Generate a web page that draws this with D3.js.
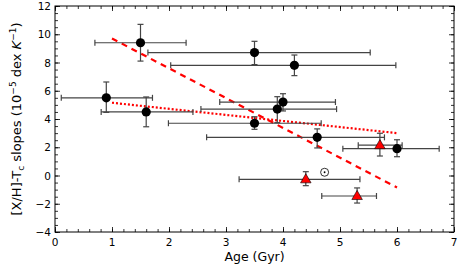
<!DOCTYPE html>
<html><head><meta charset="utf-8">
<script src="https://cdn.jsdelivr.net/npm/d3@7"></script>
<style>body{margin:0;background:#fff}svg{display:block}text{font-family:"DejaVu Sans",sans-serif}</style>
</head><body><svg id="c" width="463" height="265"></svg>
<script>
// Black circles: age, slope, age low, age high, slope low, slope high
const circAge   = [1.5, 3.5, 4.2, 0.9, 1.6, 4.0, 3.9, 3.5, 4.6, 6.0];
const circSlope = [9.4, 8.7, 7.8, 5.5, 4.5, 5.2, 4.7, 3.7, 2.7, 1.9];
const circAgeLo = [0.7, 1.63, 2.03, 0.11, 0.81, 2.89, 2.56, 1.99, 2.66, 5.05];
const circAgeHi = [2.3, 5.53, 5.98, 1.71, 2.42, 4.92, 4.94, 4.67, 5.78, 6.74];
const circSlLo  = [8.1, 7.85, 7.07, 4.47, 3.45, 4.57, 3.74, 3.27, 1.95, 1.33];
const circSlHi  = [10.7, 9.5, 8.53, 6.62, 5.56, 5.79, 5.58, 4.16, 3.3, 2.53];
// Red triangles
const triAge   = [5.7, 4.4, 5.3];
const triSlope = [2.15, -0.27, -1.45];
const triAgeLo = [5.32, 3.23, 4.68];
const triAgeHi = [6.09, 5.35, 5.64];
const triSlLo  = [1.38, -0.72, -1.95];
const triSlHi  = [2.99, 0.27, -0.88];
// Sun
const sunAge = [4.73], sunSlope = [0.23];
// Fit lines
const dashX = [1.0, 6.0], dashY = [9.7, -0.85];
const dotX  = [1.0, 6.0], dotY  = [5.15, 3.0];
const xTicks = [0,1,2,3,4,5,6,7];
const yTicks = [-4,-2,0,2,4,6,8,10,12];

const L=55, R=454, T=6, B=232;
const svg = d3.select("#c");
const x = d3.scaleLinear().domain([0,7]).range([L,R]);
const y = d3.scaleLinear().domain([-4,12]).range([B,T]);

function axis(gen, tr, major, minor){
  const g = svg.append("g").attr("transform", tr);
  g.call(gen.tickValues(minor).tickSize(3).tickFormat(""));
  const g2 = svg.append("g").attr("transform", tr);
  g2.call(gen.tickValues(major).tickSize(5).tickFormat(""));
  [g,g2].forEach(gg=>{gg.select(".domain").remove(); gg.selectAll("line").attr("stroke","#000").attr("stroke-width",0.8);});
}
const xMinor = d3.range(0,7.001,0.2).map(v=>+v.toFixed(1));
const yMinor = d3.range(-4,12.001,0.5);
axis(d3.axisTop(x), `translate(0,${B})`, xTicks, xMinor);
axis(d3.axisBottom(x), `translate(0,${T})`, xTicks, xMinor);
axis(d3.axisRight(y), `translate(${L},0)`, yTicks, yMinor);
axis(d3.axisLeft(y), `translate(${R},0)`, yTicks, yMinor);
svg.append("g").selectAll("text").data(xTicks).join("text")
  .attr("x", d=>x(d)).attr("y", B+14).attr("text-anchor","middle").attr("font-size",10.5).text(d=>d);
svg.append("g").selectAll("text").data(yTicks).join("text")
  .attr("x", L-4).attr("y", d=>y(d)+4).attr("text-anchor","end").attr("font-size",10.5)
  .text(d=>d<0?"\u2212"+(-d):d);
svg.append("rect").attr("x",L).attr("y",T).attr("width",R-L).attr("height",B-T)
  .attr("fill","none").attr("stroke","#000").attr("stroke-width",1);

const line = d3.line().x(d=>x(d[0])).y(d=>y(d[1]));
svg.append("path").attr("d", line(dashX.map((v,i)=>[v,dashY[i]])))
  .attr("stroke","#ff0000").attr("stroke-width",2.2).attr("stroke-dasharray","6,5").attr("fill","none");
svg.append("path").attr("d", line(dotX.map((v,i)=>[v,dotY[i]])))
  .attr("stroke","#ff0000").attr("stroke-width",2.2).attr("stroke-dasharray","2,2").attr("fill","none");

function errbars(ax, sl, axLo, axHi, slLo, slHi){
  const g = svg.append("g").attr("stroke","#444").attr("stroke-width",1.2);
  ax.forEach((a,i)=>{
    g.append("line").attr("x1",x(axLo[i])).attr("x2",x(axHi[i])).attr("y1",y(sl[i])).attr("y2",y(sl[i]));
    g.append("line").attr("x1",x(a)).attr("x2",x(a)).attr("y1",y(slLo[i])).attr("y2",y(slHi[i]));
    [axLo[i],axHi[i]].forEach(v=>g.append("line").attr("x1",x(v)).attr("x2",x(v)).attr("y1",y(sl[i])-3).attr("y2",y(sl[i])+3));
    [slLo[i],slHi[i]].forEach(v=>g.append("line").attr("x1",x(a)-3).attr("x2",x(a)+3).attr("y1",y(v)).attr("y2",y(v)));
  });
}
errbars(circAge,circSlope,circAgeLo,circAgeHi,circSlLo,circSlHi);
errbars(triAge,triSlope,triAgeLo,triAgeHi,triSlLo,triSlHi);

svg.append("g").selectAll("circle").data(circAge).join("circle")
  .attr("cx",d=>x(d)).attr("cy",(d,i)=>y(circSlope[i])).attr("r",4.6).attr("fill","#000");
const tri = d3.symbol().type(d3.symbolTriangle).size(48);
svg.append("g").selectAll("path").data(triAge).join("path")
  .attr("d",tri).attr("transform",(d,i)=>`translate(${x(d)},${y(triSlope[i])+0.5})`)
  .attr("fill","#ff0000").attr("stroke","#000").attr("stroke-width",0.6);
sunAge.forEach((a,i)=>{
  svg.append("circle").attr("cx",x(a)).attr("cy",y(sunSlope[i])).attr("r",4).attr("fill","none").attr("stroke","#000").attr("stroke-width",0.8);
  svg.append("circle").attr("cx",x(a)).attr("cy",y(sunSlope[i])).attr("r",0.9).attr("fill","#000");
});

svg.append("text").attr("x",(L+R)/2).attr("y",261).attr("text-anchor","middle").attr("font-size",12.5).text("Age (Gyr)");
const yl = svg.append("text").attr("transform",`translate(21,${(T+B)/2}) rotate(-90)`).attr("text-anchor","middle").attr("font-size",13);
yl.append("tspan").text("[X/H]-T");
yl.append("tspan").attr("font-size",9).attr("dy",3).text("c");
yl.append("tspan").attr("dy",-3).text(" slopes (10");
yl.append("tspan").attr("font-size",9).attr("dy",-5).text("\u22125");
yl.append("tspan").attr("dy",5).text(" dex ");
yl.append("tspan").attr("font-style","italic").text("K");
yl.append("tspan").attr("font-size",9).attr("dy",-5).text("\u22121");
yl.append("tspan").attr("dy",5).text(")");
</script></body></html>
